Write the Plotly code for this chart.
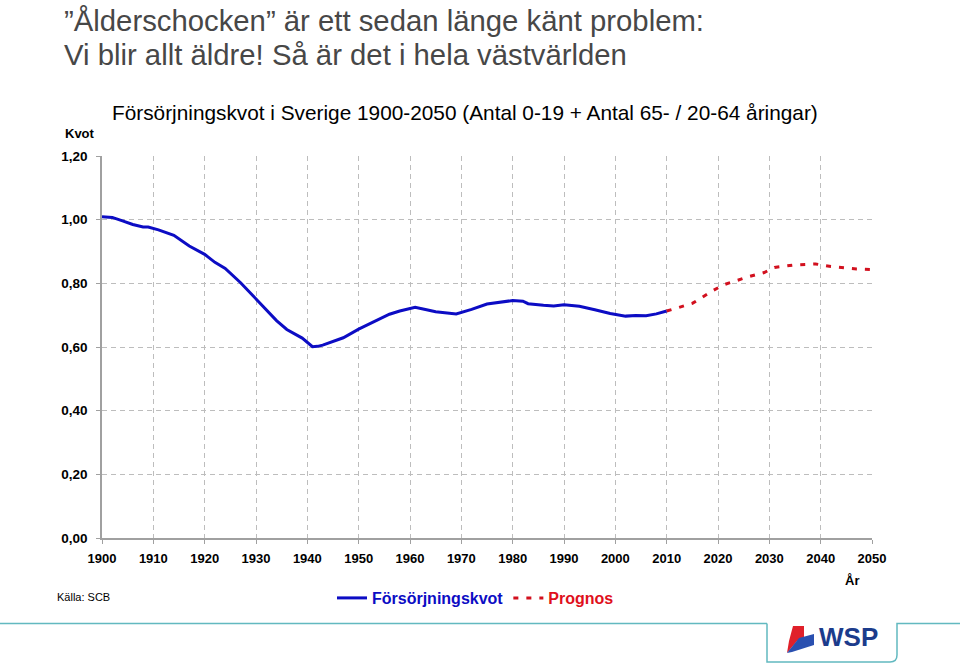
import plotly.graph_objects as go

# ---------------- data ----------------
hist_years = [1900, 1902, 1904, 1906, 1908, 1909, 1911, 1914, 1917, 1920, 1922, 1924,
              1927, 1930, 1932, 1934, 1936, 1939, 1941, 1942, 1943, 1945, 1947, 1950,
              1953, 1956, 1958, 1961, 1963, 1965, 1969, 1972, 1975, 1978, 1980, 1982,
              1983, 1986, 1988, 1990, 1993, 1996, 1999, 2002, 2004, 2006, 2008, 2010]
hist_values = [1.009, 1.007, 0.996, 0.985, 0.977, 0.977, 0.968, 0.951, 0.917, 0.891, 0.866, 0.847,
               0.802, 0.752, 0.717, 0.683, 0.655, 0.628, 0.601, 0.602, 0.606, 0.618, 0.629, 0.656,
               0.680, 0.703, 0.713, 0.725, 0.718, 0.711, 0.704, 0.718, 0.735, 0.742, 0.746, 0.744,
               0.736, 0.731, 0.729, 0.733, 0.728, 0.717, 0.705, 0.697, 0.699, 0.698, 0.704, 0.713]

prog_years = [2010, 2015, 2019, 2021, 2026, 2029, 2031, 2035, 2039, 2042, 2047, 2050]
prog_values = [0.713, 0.737, 0.777, 0.795, 0.821, 0.834, 0.850, 0.858, 0.861, 0.853, 0.845, 0.843]

x_ticks = list(range(1900, 2051, 10))
x_tick_labels = [str(y) for y in x_ticks]
y_ticks = [0.0, 0.2, 0.4, 0.6, 0.8, 1.0, 1.2]
y_tick_labels = ["0,00", "0,20", "0,40", "0,60", "0,80", "1,00", "1,20"]

hist_name = "Försörjningskvot"
prog_name = "Prognos"

# ---------------- layout helpers ----------------
W, H = 960, 664
L, R, T, B = 102, 872, 156, 538


def px(x):
    return (x - L) / (R - L)


def py(y):
    return (B - y) / (B - T)


FONT = "Liberation Sans, Arial, sans-serif"
BLUE = "#0c0cc4"
RED = "#d2101e"
GRID = "#bdbdbd"
TEAL = "#62b9c0"

fig = go.Figure()
fig.add_trace(go.Scatter(
    x=hist_years, y=hist_values, mode="lines",
    line=dict(color=BLUE, width=3),
    name=f"<span style='color:{BLUE}'>{hist_name}</span>",
))
fig.add_trace(go.Scatter(
    x=prog_years, y=prog_values, mode="lines",
    line=dict(color=RED, width=3, dash="5px,8px"),
    name=f"<span style='color:#e0101c'>{prog_name}</span>",
))

fig.update_layout(
    width=W, height=H,
    margin=dict(l=L, r=W - R, t=T, b=H - B, pad=0),
    paper_bgcolor="white", plot_bgcolor="white",
    font=dict(family=FONT, color="#000000"),
    showlegend=True,
    legend=dict(orientation="h", x=px(332), y=py(581), xanchor="left", yanchor="top",
                font=dict(family=FONT, size=16, weight="bold"),
                bgcolor="rgba(0,0,0,0)", itemwidth=30, tracegroupgap=0),
)

fig.update_xaxes(
    range=[1900, 2050], tickvals=x_ticks, ticktext=x_tick_labels,
    tickfont=dict(family=FONT, size=13, color="#000", weight="bold"),
    showgrid=True, gridcolor=GRID, griddash="5px,4px", gridwidth=1,
    showline=True, linecolor="#a0a0a0", linewidth=1.5,
    ticks="outside", ticklen=4, tickcolor="#a0a0a0",
    zeroline=False, ticklabelstandoff=4,
)
fig.update_yaxes(
    range=[0, 1.2], tickvals=y_ticks, ticktext=y_tick_labels,
    tickfont=dict(family=FONT, size=13.5, color="#000", weight="bold"),
    showgrid=True, gridcolor=GRID, griddash="5px,4px", gridwidth=1,
    showline=True, linecolor="#a0a0a0", linewidth=1.5,
    ticks="outside", ticklen=4, tickcolor="#a0a0a0",
    zeroline=False, ticklabelstandoff=6,
)

ann = []
ann.append(dict(text="”Ålderschocken” är ett sedan länge känt problem:",
                x=px(62), y=py(20), xanchor="left", yanchor="middle",
                font=dict(family=FONT, size=29.3, color="#474747")))
ann.append(dict(text="Vi blir allt äldre! Så är det i hela västvärlden",
                x=px(62), y=py(55), xanchor="left", yanchor="middle",
                font=dict(family=FONT, size=29.3, color="#474747")))
ann.append(dict(text="Försörjningskvot i Sverige 1900-2050 (Antal 0-19 + Antal 65- / 20-64 åringar)",
                x=px(465), y=py(112), xanchor="center", yanchor="middle",
                font=dict(family=FONT, size=20.8, color="#000")))
ann.append(dict(text="<b>Kvot</b>", x=px(97), y=py(133), xanchor="right", yanchor="middle",
                font=dict(family=FONT, size=13, color="#000")))
ann.append(dict(text="<b>År</b>", x=px(852), y=py(580), xanchor="center", yanchor="middle",
                font=dict(family=FONT, size=13, color="#000")))
ann.append(dict(text="Källa: SCB", x=px(55), y=py(597), xanchor="left", yanchor="middle",
                font=dict(family=FONT, size=11, color="#000")))
ann.append(dict(text="<b>WSP</b>", x=px(817), y=py(637), xanchor="left", yanchor="middle",
                font=dict(family=FONT, size=26, color="#1c3c8c")))
for a in ann:
    a.update(xref="paper", yref="paper", showarrow=False)
fig.update_layout(annotations=ann)

shapes = []
# teal footer line with logo box
shapes.append(dict(type="line", xref="paper", yref="paper",
                   x0=px(0), x1=px(767), y0=py(623.5), y1=py(623.5),
                   line=dict(color=TEAL, width=1.5)))
box_path = (f"M{px(767)},{py(623.5)} L{px(767)},{py(662)} L{px(890)},{py(662)} "
            f"Q{px(897)},{py(662)} {px(897)},{py(655)} L{px(897)},{py(623.5)} L{px(960)},{py(623.5)}")
shapes.append(dict(type="path", xref="paper", yref="paper", path=box_path,
                   line=dict(color=TEAL, width=1.5)))
# logo marks
red_path = (f"M{px(793)},{py(626)} L{px(804)},{py(626)} L{px(804)},{py(637)} "
            f"L{px(797)},{py(641)} L{px(787)},{py(653)} L{px(789)},{py(641)} Z")
blue_path = (f"M{px(799)},{py(638)} L{px(814)},{py(634)} L{px(814)},{py(645)} "
             f"L{px(792)},{py(652)} L{px(787)},{py(653)} Z")
shapes.append(dict(type="path", xref="paper", yref="paper", path=red_path,
                   fillcolor="#e0202a", line=dict(width=0)))
shapes.append(dict(type="path", xref="paper", yref="paper", path=blue_path,
                   fillcolor="#2a50b0", line=dict(width=0)))
fig.update_layout(shapes=shapes)

fig.write_html("out.html", config={"displayModeBar": False},
               post_script="document.body.style.margin='0';document.body.style.overflow='hidden';")
